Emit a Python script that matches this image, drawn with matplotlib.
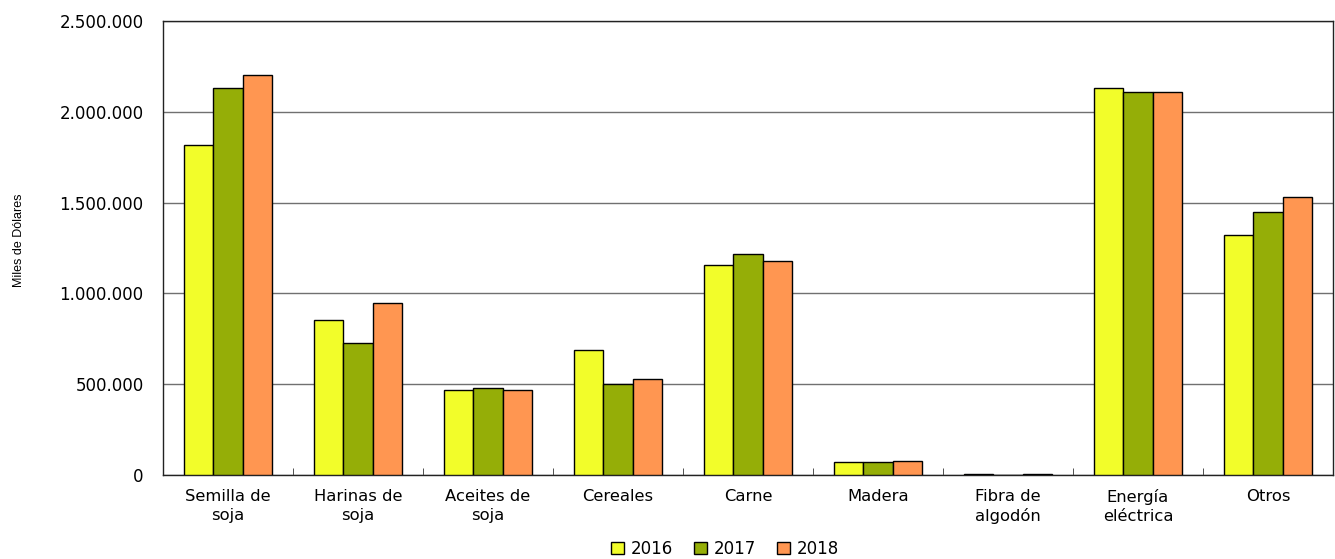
import numpy as np
import matplotlib.pyplot as plt
from matplotlib.ticker import FuncFormatter

categories = ["Semilla de\nsoja", "Harinas de\nsoja", "Aceites de\nsoja", "Cereales", "Carne",
              "Madera", "Fibra de\nalgodón", "Energía\neléctrica", "Otros"]
years = ["2016", "2017", "2018"]
v2016 = [1817000, 853000, 468000, 687000, 1156000, 72000, 5000, 2131000, 1322000]
v2017 = [2131000, 727000, 477000, 499000, 1217000, 70000, 2000, 2109000, 1447000]
v2018 = [2203000, 947000, 470000, 527000, 1178000, 77000, 3000, 2110000, 1529000]
colors = ["#F2FD2A", "#95AE07", "#FF9651"]

fig = plt.figure(figsize=(13.35, 5.59), dpi=100)
ax = fig.add_axes([0.1221, 0.1503, 0.8764, 0.8121])

x = np.arange(len(categories))
w = 0.226
for i, (vals, yr) in enumerate(zip([v2016, v2017, v2018], years)):
    ax.bar(x + (i - 1) * w, vals, width=w, color=colors[i], edgecolor="black",
           linewidth=1, label=yr, zorder=3)

ax.set_xlim(-0.5, len(categories) - 0.5)
ax.set_ylim(0, 2500000)
ax.set_yticks(np.arange(0, 2500001, 500000))
ax.yaxis.set_major_formatter(FuncFormatter(lambda v, p: f"{int(v):,}".replace(",", ".")))
ax.grid(axis="y", color="#707070", linewidth=1, zorder=0)
ax.tick_params(axis="y", length=0, labelsize=12, pad=14)

ax.set_xticks(x)
ax.set_xticklabels(categories, fontsize=11.8, linespacing=1.35)
ax.tick_params(axis="x", length=0, pad=10)
ax.set_xticks(np.arange(0.5, len(categories) - 1, 1), minor=True)
ax.tick_params(axis="x", which="minor", direction="in", length=5, color="#333333")

for s in ax.spines.values():
    s.set_color("#222222")
    s.set_linewidth(1)

fig.text(0.014, 0.57, "Miles de Dólares", rotation=90, fontsize=9,
         family="Liberation Sans", va="center", ha="center")

fig.legend(loc="center", bbox_to_anchor=(725 / 1335, 1 - 549 / 559), ncol=3,
           frameon=False, fontsize=12, handlelength=0.75, handleheight=0.75,
           handletextpad=0.4, columnspacing=1.3)

fig.savefig("out.png", dpi=100)
